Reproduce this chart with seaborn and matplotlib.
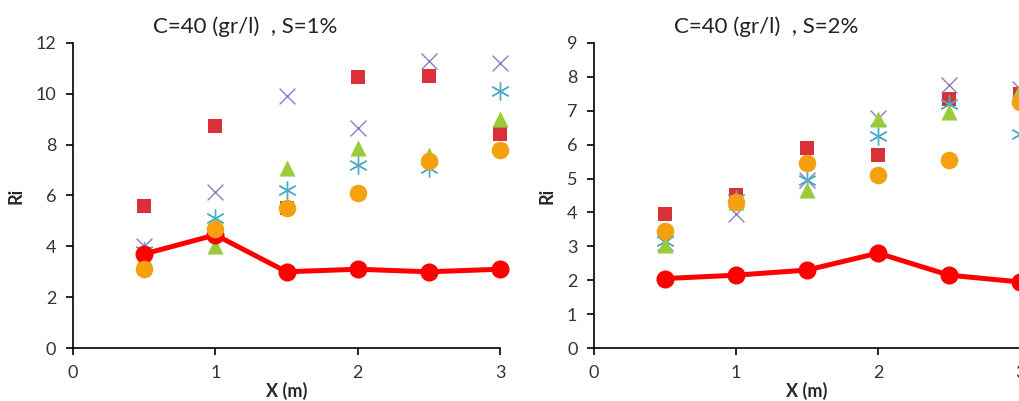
import numpy as np
import pandas as pd
import seaborn as sns
import matplotlib.pyplot as plt

x_vals = [0.5, 1.0, 1.5, 2.0, 2.5, 3.0]

# S = 1 %
s1_line = [3.7, 4.45, 3.0, 3.1, 3.0, 3.1]
s1_square = [5.6, 8.75, 5.5, 10.65, 10.7, 8.4]
s1_cross = [4.0, 6.15, 9.9, 8.65, 11.3, 11.2]
s1_star = [3.8, 5.1, 6.2, 7.2, 7.1, 10.1]
s1_tri = [3.6, 4.0, 7.1, 7.85, 7.6, 9.0]
s1_circ = [3.1, 4.7, 5.5, 6.1, 7.35, 7.8]

# S = 2 %
s2_line = [2.05, 2.15, 2.3, 2.8, 2.15, 1.95]
s2_square = [3.95, 4.5, 5.9, 5.7, 7.35, 7.5]
s2_cross = [3.1, 3.95, 4.95, 6.8, 7.75, 7.65]
s2_star = [3.15, 4.4, 4.95, 6.25, 7.2, 6.3]
s2_tri = [3.05, 4.3, 4.65, 6.75, 6.95, 7.6]
s2_circ = [3.45, 4.3, 5.45, 5.1, 5.55, 7.25]

titles = ["C=40 (gr/l)  , S=1%", "C=40 (gr/l)  , S=2%"]
y_max = [12, 9]
y_step = [2, 1]

sns.set_style("white")
plt.rcParams["font.family"] = ["Lato", "DejaVu Sans"]

fig = plt.figure(figsize=(10.2, 4.01), dpi=100)
ax1 = fig.add_axes([0.0716, 0.132, 0.4186, 0.761])
ax2 = fig.add_axes([0.5824, 0.132, 0.4176, 0.761])

panels = [
    (ax1, s1_line, s1_square, s1_cross, s1_star, s1_tri, s1_circ),
    (ax2, s2_line, s2_square, s2_cross, s2_star, s2_tri, s2_circ),
]

for i, (ax, line, sq, cr, st, tr, ci) in enumerate(panels):
    df = pd.DataFrame({"x": x_vals, "line": line, "sq": sq, "cr": cr,
                       "st": st, "tr": tr, "ci": ci})
    sns.lineplot(data=df, x="x", y="line", ax=ax, color="#ff0000", lw=3.6,
                 marker="o", markersize=13, markeredgewidth=0, zorder=3)
    sns.scatterplot(data=df, x="x", y="sq", ax=ax, marker="s", s=115,
                    color="#d9303a", linewidth=0, zorder=2)
    sns.scatterplot(data=df, x="x", y="cr", ax=ax, marker="x", s=130,
                    color="#8e7cc3", linewidth=1.0, zorder=2)
    sns.scatterplot(data=df, x="x", y="st", ax=ax, marker=(6, 2, 0), s=160,
                    color="#4bacc6", linewidth=1.0, zorder=2)
    sns.scatterplot(data=df, x="x", y="tr", ax=ax, marker="^", s=135,
                    color="#9bcb3b", linewidth=0, zorder=2)
    sns.scatterplot(data=df, x="x", y="ci", ax=ax, marker="o", s=160,
                    color="#f5a00f", linewidth=0, zorder=4)

    ax.set_xlim(0, 3)
    ax.set_ylim(0, y_max[i])
    ax.set_xticks([0, 1, 2, 3])
    ax.set_yticks(np.arange(0, y_max[i] + 1, y_step[i]))
    ax.tick_params(axis="both", direction="out", length=5, width=1.2,
                   color="black", labelsize=13, labelcolor="#333340", pad=7,
                   bottom=True, left=True)
    for side in ["top", "right"]:
        ax.spines[side].set_visible(False)
    for side in ["left", "bottom"]:
        ax.spines[side].set_color("black")
        ax.spines[side].set_linewidth(1.2)
    ax.set_xlabel("X (m)", fontsize=13, fontweight="bold", labelpad=1)
    ax.set_ylabel("Ri", fontsize=13, fontweight="bold", labelpad=8)
    ax.set_title(titles[i], x=0.404, fontsize=16, pad=7, color="#222222")
    for coll in ax.collections:
        coll.set_clip_on(False)
    for ln in ax.lines:
        ln.set_clip_on(False)

fig.savefig("out.png", dpi=100)
